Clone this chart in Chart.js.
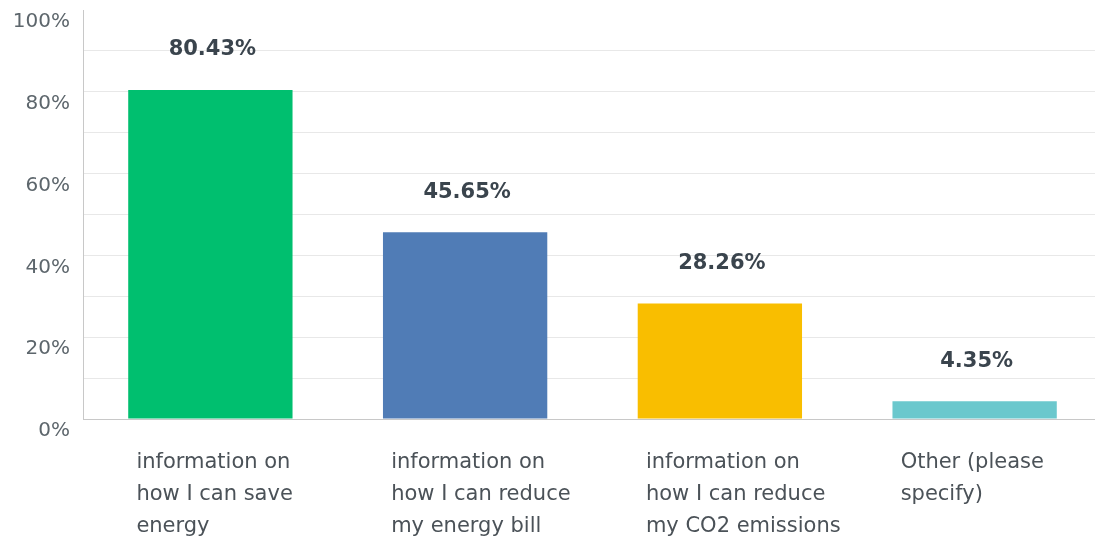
<!DOCTYPE html>
<html>
<head>
    <title>Survey answers</title>
    <script src="https://cdn.jsdelivr.net/npm/chart.js"></script>
    <style>
        body {
            margin: 0;
            background-color: #ffffff;
            overflow: hidden;
        }
    </style>
</head>
<body>

<canvas id="surveyChart" width="1105" height="541"></canvas>

<script>
    const categories = [
        ['information on', 'how I can save', 'energy'],
        ['information on', 'how I can reduce', 'my energy bill'],
        ['information on', 'how I can reduce', 'my CO2 emissions'],
        ['Other (please', 'specify)']
    ];
    const percentages = [80.43, 45.65, 28.26, 4.35];
    const barColors = ['#00bf6f', '#507cb6', '#f9be00', '#6bc8cd'];

    // writes the percentage above every bar
    const valueLabels = {
        id: 'valueLabels',
        afterDatasetsDraw(chart) {
            const ctx = chart.ctx;
            const meta = chart.getDatasetMeta(0);
            ctx.save();
            ctx.font = 'bold 21px "DejaVu Sans"';
            ctx.fillStyle = '#3a444d';
            ctx.textAlign = 'center';
            ctx.textBaseline = 'middle';
            meta.data.forEach((bar, i) => {
                ctx.fillText(percentages[i].toFixed(2) + '%', bar.x + 2, bar.y - 40);
            });
            ctx.restore();
        }
    };

    const ctx = document.getElementById('surveyChart').getContext('2d');
    new Chart(ctx, {
        type: 'bar',
        data: {
            labels: categories,
            datasets: [{
                data: percentages,
                backgroundColor: barColors,
                borderWidth: 0,
                categoryPercentage: 1,
                barPercentage: 0.645
            }]
        },
        options: {
            responsive: false,
            animation: false,
            layout: {
                padding: { top: 10, right: 3, left: 0, bottom: 0 }
            },
            plugins: {
                legend: { display: false },
                tooltip: { enabled: false }
            },
            scales: {
                x: {
                    grid: { display: false },
                    border: { color: '#c8c8c8', width: 1 },
                    ticks: {
                        color: '#4b5258',
                        font: { family: 'DejaVu Sans', size: 21, lineHeight: 1.52 },
                        align: 'start',
                        labelOffset: -74,
                        padding: 20,
                        maxRotation: 0,
                        autoSkip: false
                    },
                    afterFit: s => {
                        s.height = 122;
                        s.paddingLeft = 0;
                        s.paddingRight = 0;
                    }
                },
                y: {
                    min: 0,
                    max: 100,
                    border: { color: '#c8c8c8', width: 1 },
                    grid: {
                        drawTicks: false,
                        color: c => c.tick.value === 100 ? 'rgba(0,0,0,0)' : '#e8e8e8'
                    },
                    ticks: {
                        stepSize: 10,
                        color: '#5d666c',
                        font: { family: 'DejaVu Sans', size: 20 },
                        padding: 13,
                        labelOffset: 12,
                        callback: v => v % 20 === 0 ? v + '%' : ''
                    },
                    afterFit: s => {
                        s.width = 83;
                        s.paddingTop = 0;
                        s.paddingBottom = 0;
                    }
                }
            }
        },
        plugins: [valueLabels]
    });
</script>
</body>
</html>
